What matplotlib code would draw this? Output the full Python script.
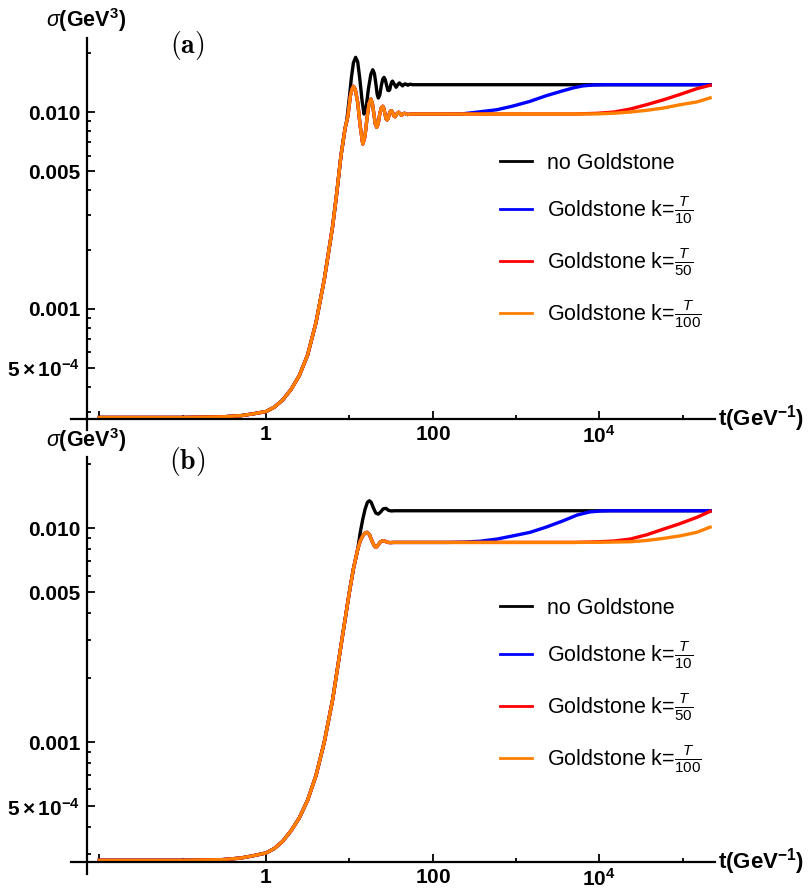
import numpy as np
import matplotlib
matplotlib.use("Agg")
import matplotlib.pyplot as plt

plt.rcParams['font.family'] = ['Liberation Sans', 'DejaVu Sans']
plt.rcParams['mathtext.fontset'] = 'custom'
plt.rcParams['mathtext.rm'] = 'Liberation Sans'
plt.rcParams['mathtext.it'] = 'Liberation Sans:italic'
plt.rcParams['mathtext.bf'] = 'Liberation Sans:bold'

# ---- panel (a) data ----
# common rise of all four curves
t_rise_a = [0.01, 0.1, 0.3, 0.5, 0.7, 1.0, 1.26, 1.58, 2.0, 2.51, 3.16, 3.98, 5.01,
            6.31, 7.08, 7.94, 8.91, 9.3]
s_rise_a = [2.8e-4, 2.8e-4, 2.82e-4, 2.86e-4, 2.92e-4, 3.0e-4, 3.16e-4, 3.43e-4, 3.89e-4,
            4.57e-4, 5.82e-4, 8.5e-4, 1.41e-3, 2.63e-3, 3.9e-3, 6.0e-3, 8.3e-3, 8.97e-3]
# Goldstone curves (blue, red, orange share this until they leave the plateau)
t_gold_a = [9.6, 10.3, 10.8, 11.2, 11.8, 12.6, 13.5, 14.5, 15.4, 16.3, 17.2, 18.1, 18.9,
            19.7, 20.5, 21.3, 22.2, 23.2, 24.2, 25.2, 26.0, 26.9, 27.7, 28.5, 29.3, 30.2,
            31.1, 32.0, 32.9, 33.8, 34.6, 35.5, 37.2, 39.0, 40.7, 42.5, 44.2, 46.0, 47.8,
            49.5, 55.0, 100.0]
s_gold_a = [0.0095, 0.0121, 0.0131, 0.01352, 0.0130, 0.0112, 0.0085, 0.00688, 0.0075, 0.0093,
            0.0110, 0.01164, 0.0111, 0.0098, 0.0087, 0.00836, 0.0087, 0.0098, 0.0105, 0.0107,
            0.0104, 0.0097, 0.0092, 0.00912, 0.0093, 0.0098, 0.0101, 0.01016, 0.0100, 0.0097,
            0.0095, 0.00946, 0.0098, 0.00998, 0.0098, 0.00962, 0.0098, 0.00986, 0.0098,
            0.00971, 0.00977, 0.00977]
t_black_a = [10.0, 10.6, 11.2, 11.9, 12.6, 13.3, 14.2, 15.0, 15.9, 16.9, 18.1, 19.1, 20.0,
             20.8, 21.6, 22.3, 23.2, 24.2, 25.2, 26.1, 27.0, 28.0, 29.0, 29.8, 30.6, 31.4,
             32.2, 33.0, 34.8, 36.5, 38.2, 40.0, 41.8, 43.5, 45.2, 47.0, 48.8, 50.5, 52.3,
             54.0, 58.0, 2.14e5]
s_black_a = [0.0118, 0.0150, 0.0178, 0.01897, 0.0180, 0.0150, 0.0115, 0.00977, 0.0105, 0.0130,
             0.0155, 0.0164, 0.0157, 0.0140, 0.0123, 0.01178, 0.0122, 0.0136, 0.0147, 0.0150,
             0.0146, 0.0137, 0.0129, 0.01285, 0.0130, 0.0137, 0.0142, 0.01436, 0.0138, 0.01336,
             0.0138, 0.01406, 0.0138, 0.01358, 0.0138, 0.01390, 0.0138, 0.01368, 0.0138,
             0.01384, 0.01377, 0.01377]
t_blue_a = [150, 232, 350, 588, 900, 1476, 2300, 3675, 5000, 6390, 8500, 12000, 2.14e5]
s_blue_a = [0.00977, 0.00980, 0.0100, 0.01027, 0.0107, 0.01133, 0.0121, 0.01283, 0.0133,
            0.01358, 0.01372, 0.01377, 0.01377]
t_red_a = [5000, 9420, 1.5e4, 2.34e4, 3.7e4, 5.9e4, 9.4e4, 1.48e5, 2.14e5]
s_red_a = [0.00977, 0.00985, 0.0100, 0.01035, 0.0109, 0.01154, 0.0123, 0.01314, 0.01368]
t_orange_a = [5000, 1.0e4, 1.6e4, 2.34e4, 3.7e4, 5.9e4, 9.4e4, 1.48e5, 2.14e5]
s_orange_a = [0.00977, 0.00979, 0.00988, 0.0100, 0.0102, 0.01048, 0.0109, 0.01125, 0.0118]

# ---- panel (b) data ----
t_rise_b = [0.01, 0.1, 0.3, 0.5, 0.7, 1.0, 1.26, 1.58, 2.0, 2.51, 3.16, 3.98, 5.01,
            6.31, 7.94, 10.0, 11.2, 12.6]
s_rise_b = [2.8e-4, 2.8e-4, 2.82e-4, 2.87e-4, 2.94e-4, 3.03e-4, 3.18e-4, 3.43e-4, 3.85e-4,
            4.42e-4, 5.35e-4, 6.97e-4, 1.0e-3, 1.58e-3, 2.82e-3, 5.0e-3, 6.45e-3, 7.94e-3]
t_gold_b = [13.5, 14.5, 15.5, 16.4, 17.5, 18.7, 20.0, 20.9, 22.0, 23.5, 25.0, 26.5, 28.5,
            31.0, 34.0, 100.0]
s_gold_b = [0.0087, 0.0092, 0.0095, 0.00955, 0.0093, 0.0087, 0.00825, 0.00812, 0.0083, 0.0086,
            0.00872, 0.0087, 0.00858, 0.00855, 0.00857, 0.00857]
t_black_b = [13.5, 14.5, 15.5, 16.5, 17.4, 18.3, 19.5, 20.8, 22.3, 23.8, 25.5, 27.6, 29.5,
             32.0, 35.0, 2.14e5]
s_black_b = [0.0095, 0.0110, 0.0123, 0.0132, 0.01342, 0.0132, 0.0124, 0.01175, 0.01162, 0.0119,
             0.0123, 0.01236, 0.0121, 0.01202, 0.01205, 0.01205]
t_blue_b = [150, 232, 370, 588, 930, 1476, 2300, 3700, 5400, 7700, 10500, 14000, 2.14e5]
s_blue_b = [0.00857, 0.0086, 0.00868, 0.00888, 0.0092, 0.00955, 0.0101, 0.01082, 0.0115,
            0.0119, 0.01202, 0.01205, 0.01205]
t_red_b = [5000, 9400, 1.5e4, 2.34e4, 3.7e4, 5.9e4, 9.4e4, 1.48e5, 2.14e5]
s_red_b = [0.00857, 0.00862, 0.0087, 0.00888, 0.0093, 0.00989, 0.0105, 0.01122, 0.01197]
t_orange_b = [5000, 1.0e4, 2.34e4, 3.7e4, 5.9e4, 9.4e4, 1.48e5, 2.14e5]
s_orange_b = [0.00857, 0.00858, 0.00863, 0.00875, 0.00895, 0.0092, 0.00955, 0.0101]

labels = ['no Goldstone', r'Goldstone k=$\frac{T}{10}$',
          r'Goldstone k=$\frac{T}{50}$', r'Goldstone k=$\frac{T}{100}$']
colors = ['black', '#0000ff', '#ff0000', '#ff8000']

xticks = [0.01, 1, 100, 1e4]
xticklabels = ['', r'$\mathbf{1}$', r'$\mathbf{100}$', r'$\mathbf{10^{4}}$']
xminor = [0.1, 10, 1000, 1e5]
yticks = [5e-4, 0.001, 0.005, 0.010]
yticklabels = [r'$\mathbf{5\times10^{-4}}$', '0.001', '0.005', '0.010']
yminor = [3e-4, 4e-4, 6e-4, 7e-4, 8e-4, 9e-4, 0.002, 0.003, 0.004,
          0.006, 0.007, 0.008, 0.009, 0.02]


def draw_panel(ax, t_rise, s_rise, t_gold, s_gold, t_black, s_black, lates, ytop):
    """Draw one log-log panel in the Mathematica look."""
    gold_t = np.array(t_rise + t_gold)
    gold_s = np.array(s_rise + s_gold)
    ax.plot(t_rise + t_black, s_rise + s_black, color=colors[0], lw=2.4,
            solid_joinstyle='round', label=labels[0])
    for (tl, sl), c, lab in zip(lates, colors[1:], labels[1:]):
        keep = gold_t < tl[0]
        ax.plot(np.concatenate([gold_t[keep], tl]), np.concatenate([gold_s[keep], sl]),
                color=c, lw=2.4, solid_joinstyle='round', label=lab)
    ax.set_xscale('log')
    ax.set_yscale('log')
    ax.set_xlim(0.0071, 2.45e5)
    ax.set_ylim(2.75e-4, ytop)
    for sp in ax.spines.values():
        sp.set_visible(False)
    ax.plot([-0.025, 1.0], [0, 0], transform=ax.transAxes, clip_on=False, color='black', lw=1.6)
    ax.plot([0, 0], [-0.03, 1.0], transform=ax.transAxes, clip_on=False, color='black', lw=1.6)
    ax.set_xticks(xticks)
    ax.set_xticklabels(xticklabels)
    ax.set_xticks(xminor, minor=True)
    ax.set_xticklabels([], minor=True)
    ax.set_yticks(yticks)
    ax.set_yticklabels(yticklabels)
    ax.set_yticks(yminor, minor=True)
    ax.set_yticklabels([], minor=True)
    ax.tick_params(which='both', direction='in', labelsize=15, width=1.3)
    ax.tick_params(which='major', length=6)
    ax.tick_params(which='minor', length=3)
    ax.tick_params(axis='x', which='major', pad=4.5)
    ax.tick_params(axis='y', which='major', pad=5)
    for lab in ax.get_yticklabels():
        lab.set_fontweight('bold')
    leg = ax.legend(loc='upper left', frameon=False, fontsize=15.5, handlelength=1.5,
                    handletextpad=0.7, labelspacing=0.94, borderpad=0, borderaxespad=0)
    for h in leg.get_lines():
        h.set_linewidth(2.0)
    return leg


fig = plt.figure(figsize=(8.1, 8.89), dpi=100)
ax_a = fig.add_axes([0.1074, 0.5287, 0.7753, 0.4286])
ax_b = fig.add_axes([0.1074, 0.0304, 0.7753, 0.4556])

leg_a = draw_panel(ax_a, t_rise_a, s_rise_a, t_gold_a, s_gold_a, t_black_a, s_black_a,
                   [(t_blue_a, s_blue_a), (t_red_a, s_red_a), (t_orange_a, s_orange_a)], 0.0238)
leg_a.set_bbox_to_anchor((500 / 810, 1 - 153 / 889), transform=fig.transFigure)
leg_b = draw_panel(ax_b, t_rise_b, s_rise_b, t_gold_b, s_gold_b, t_black_b, s_black_b,
                   [(t_blue_b, s_blue_b), (t_red_b, s_red_b), (t_orange_b, s_orange_b)], 0.0215)
leg_b.set_bbox_to_anchor((500 / 810, 1 - 598 / 889), transform=fig.transFigure)

for y_sig, y_ax in [(20, 419), (440, 862)]:
    fig.text(46 / 810, 1 - y_sig / 889, r'$\sigma\mathbf{(GeV^{3})}$', fontsize=15.5,
             ha='left', va='center')
    fig.text(718 / 810, 1 - y_ax / 889, r'$\mathbf{t(GeV^{-1})}$', fontsize=16,
             ha='left', va='center')
fig.text(187 / 810, 1 - 45 / 889, r'$\mathbf{(a)}$', fontsize=20, ha='center', va='center',
         math_fontfamily='cm')
fig.text(187 / 810, 1 - 462 / 889, r'$\mathbf{(b)}$', fontsize=20, ha='center', va='center',
         math_fontfamily='cm')

fig.savefig('out.png', dpi=100)
